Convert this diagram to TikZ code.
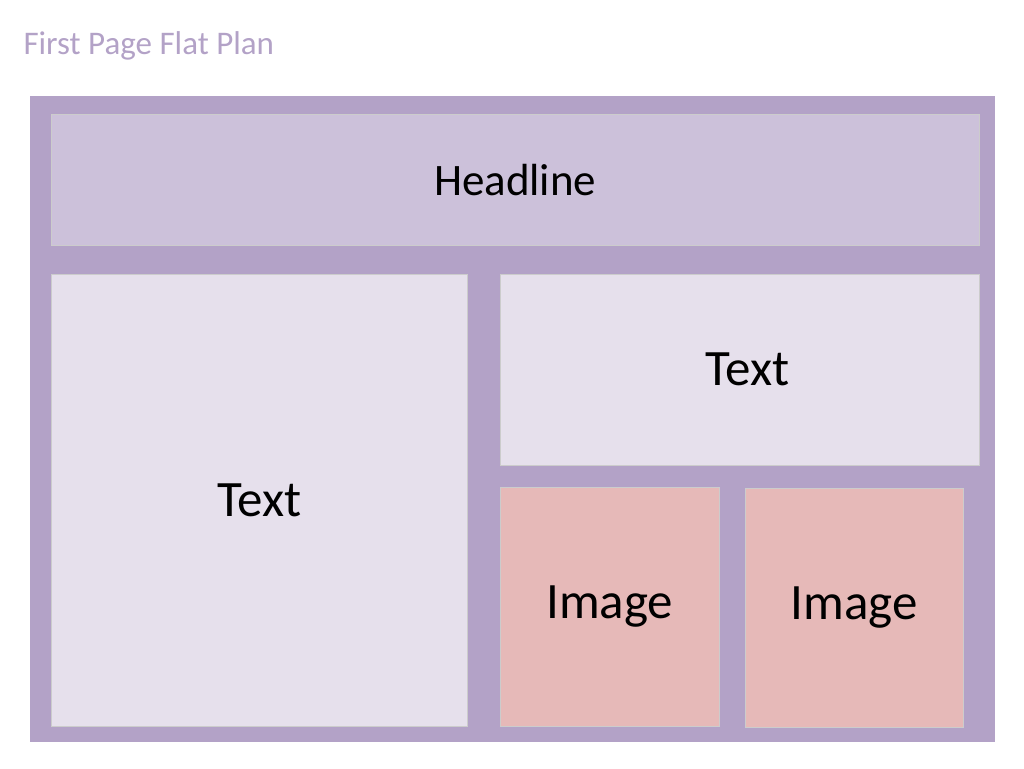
\documentclass[tikz,border=0pt]{standalone}
\usepackage{fontspec}
\setmainfont{Carlito}
\usetikzlibrary{positioning}
\definecolor{frame}{HTML}{B3A2C7}
\definecolor{headfill}{HTML}{CCC1DA}
\definecolor{textfill}{HTML}{E6E0EC}
\definecolor{imagefill}{HTML}{E6B9B8}
\tikzset{
	block/.style={
		rectangle,
		anchor=north west,
		inner sep=0pt,
		draw=black!20,
		font=\fontsize{51}{53}\selectfont
	},
	headblock/.style={block, fill=headfill, font=\fontsize{45}{47}\selectfont},
	textblock/.style={block, fill=textfill},
	imageblock/.style={block, fill=imagefill}
}

\begin{document}
\begin{tikzpicture}[x=1pt,y=-1pt]
\useasboundingbox (0,0) rectangle (1024,768);
\node [anchor=west, text=frame, font=\fontsize{33}{35}\selectfont] (title) at (20,46) {First Page Flat Plan};
\node [rectangle, anchor=north west, inner sep=0pt, fill=frame,
	minimum width=965pt, minimum height=646pt] (page) at (30,96) {};
\node [headblock, minimum width=928pt, minimum height=131pt] (headline) at (51,114) {Headline};
\node [textblock, minimum width=416pt, minimum height=452pt] (lefttext) at (51,274) {Text};
\node [textblock, minimum width=479pt, minimum height=191pt] (righttext) at (500,274) {\hspace*{16pt}Text};
\node [imageblock, minimum width=219pt, minimum height=239pt] (imageA) at (500,487) {Image};
\node [imageblock, minimum width=218pt, minimum height=239pt] (imageB) at (745,488) {Image};
\end{tikzpicture}
\end{document}
